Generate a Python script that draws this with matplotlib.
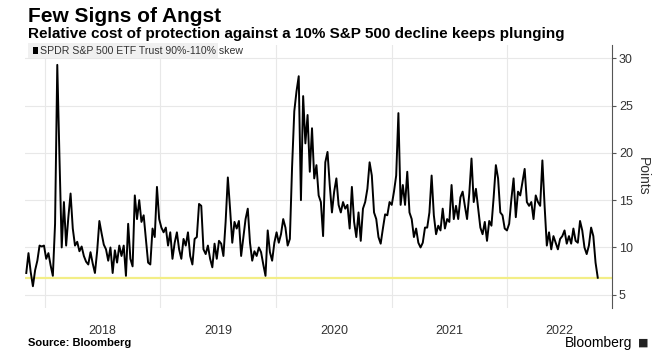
import datetime as dt
import matplotlib
matplotlib.use('Agg')
import matplotlib.pyplot as plt
from matplotlib.patches import Rectangle

# weekly readings of the skew, starting early November 2017
start_date = dt.date(2017, 11, 3)
skew = [
    7.3, 9.4, 7.4, 5.9, 7.6, 8.6, 10.2, 10.1, 10.2, 8.8,
    9.4, 8.1, 7.0, 12.5, 29.3, 19.4, 10.0, 14.8, 10.2, 13.2,
    15.7, 12.0, 10.2, 10.6, 9.6, 10.1, 9.1, 8.5, 8.2, 9.5,
    8.3, 7.3, 9.6, 12.8, 11.5, 10.3, 9.8, 8.6, 10.0, 7.3,
    9.7, 8.4, 10.2, 9.1, 10.2, 7.0, 12.5, 8.8, 8.0, 15.5,
    13.0, 15.0, 12.7, 13.4, 10.9, 8.4, 8.2, 12.0, 11.1, 16.4,
    13.0, 12.1, 11.6, 12.1, 10.2, 11.6, 8.8, 10.5, 11.6, 9.8,
    8.8, 10.9, 10.2, 11.6, 9.1, 8.2, 10.9, 11.1, 14.6, 14.4,
    9.8, 9.3, 10.2, 8.8, 7.9, 10.4, 8.8, 10.7, 10.4, 9.1,
    12.7, 17.4, 14.1, 10.5, 12.7, 12.0, 12.8, 9.1, 11.1, 13.0,
    14.1, 10.5, 8.6, 9.6, 9.1, 10.0, 9.5, 8.2, 7.0, 11.8,
    9.5, 8.6, 10.5, 11.6, 10.5, 11.4, 13.0, 12.1, 10.2, 10.9,
    18.5, 24.4, 26.5, 28.1, 15.0, 26.0, 21.0, 24.0, 18.0, 22.6,
    17.3, 18.7, 15.5, 14.8, 11.2, 19.0, 20.1, 16.6, 13.7, 15.9,
    17.3, 14.5, 13.7, 14.8, 14.1, 14.5, 12.0, 16.4, 12.7, 11.1,
    13.7, 10.7, 14.1, 14.8, 16.2, 19.0, 17.6, 13.7, 13.0, 11.1,
    10.4, 12.0, 13.5, 13.4, 14.8, 14.5, 15.9, 17.6, 24.2, 14.5,
    16.6, 14.5, 18.0, 13.7, 13.0, 11.1, 12.0, 10.5, 10.0, 10.5,
    12.1, 12.1, 13.7, 17.6, 13.4, 11.4, 12.3, 11.8, 14.1, 12.0,
    13.0, 12.7, 16.6, 13.0, 14.4, 13.0, 15.3, 15.9, 14.4, 13.0,
    15.7, 19.4, 14.8, 16.2, 14.1, 12.1, 11.4, 12.7, 10.7, 12.8,
    12.3, 15.3, 18.7, 17.3, 13.7, 13.4, 12.0, 11.8, 12.5, 15.1,
    17.3, 13.2, 15.9, 15.5, 16.9, 18.3, 14.8, 14.4, 14.8, 13.0,
    15.5, 14.8, 14.4, 19.2, 14.4, 10.2, 11.6, 9.8, 11.2, 10.5,
    9.8, 10.9, 11.2, 11.8, 10.4, 11.2, 10.4, 12.0, 10.7, 10.5,
    12.8, 11.8, 10.0, 9.3, 10.2, 12.1, 11.2, 8.4, 6.8,
]
dates = [start_date + dt.timedelta(days=7 * i) for i in range(len(skew))]
latest = skew[-1]

year_labels = ['2018', '2019', '2020', '2021', '2022']
label_dates = [dt.date(2018, 7, 2), dt.date(2019, 7, 2), dt.date(2020, 7, 2),
               dt.date(2021, 7, 2), dt.date(2022, 6, 15)]
year_starts = [dt.date(y, 1, 1) for y in range(2018, 2023)]
y_ticks = [5, 10, 15, 20, 25, 30]

plt.rcParams['font.family'] = ['Liberation Sans', 'DejaVu Sans']

fig = plt.figure(figsize=(6.56, 3.6), dpi=100)
ax = fig.add_axes([25 / 656, 52 / 360, 587 / 656, 263 / 360])

ax.axhline(latest, color='#f3ee86', linewidth=1.6, zorder=2)
ax.plot(dates, skew, color='black', linewidth=1.4, zorder=3)

ax.set_xlim(dt.date(2017, 10, 30), dt.date(2022, 11, 28))
ax.set_ylim(3.6, 31.4)

# year boundaries carry the grid, labels sit mid-year
ax.set_xticks(year_starts)
ax.set_xticklabels([])
ax.set_xticks(label_dates, minor=True)
ax.set_xticklabels(year_labels, minor=True)
ax.tick_params(axis='x', which='both', length=0, pad=12,
               labelsize=9, labelcolor='#333333')
ax.grid(axis='x', which='major', color='#e8e8e8', linewidth=0.8)

ax.yaxis.tick_right()
ax.yaxis.set_label_position('right')
ax.set_yticks(y_ticks)
ax.tick_params(axis='y', direction='out', length=3, width=0.8, color='#555555',
               labelsize=9, labelcolor='#333333', pad=2)
ax.grid(axis='y', color='#e8e8e8', linewidth=0.8)
ax.set_ylabel('Points', rotation=270, labelpad=12, fontsize=10, color='#333333')
ax.set_axisbelow(True)

for side in ['left', 'top', 'bottom']:
    ax.spines[side].set_visible(False)
ax.spines['right'].set_color('#555555')
ax.spines['right'].set_linewidth(0.8)

# titles
fig.text(28 / 656, 1 - 17 / 360, 'Few Signs of Angst', fontsize=15,
         fontweight='bold', va='center', ha='left', color='black')
fig.text(28 / 656, 1 - 34 / 360,
         'Relative cost of protection against a 10% S&P 500 decline keeps plunging',
         fontsize=11, fontweight='bold', va='center', ha='left', color='black')

# legend box
fig.patches.append(Rectangle((28 / 656, 1 - 58 / 360), 190 / 656, 15 / 360,
                             transform=fig.transFigure, facecolor='#f0f0f0',
                             edgecolor='none', zorder=5))
fig.patches.append(Rectangle((33 / 656, 1 - 53.5 / 360), 5 / 656, 6 / 360,
                             transform=fig.transFigure, facecolor='black',
                             edgecolor='none', zorder=6))
fig.text(40 / 656, 1 - 50.5 / 360, 'SPDR S&P 500 ETF Trust 90%-110% skew',
         fontsize=7.6, va='center', ha='left', color='#333333', zorder=7)

# footer
fig.text(28 / 656, 1 - 343 / 360, 'Source: Bloomberg', fontsize=8,
         fontweight='bold', va='center', ha='left', color='black')
fig.text(632 / 656, 1 - 343 / 360, 'Bloomberg', fontsize=10,
         va='center', ha='right', color='black')
fig.text(643 / 656, 1 - 343 / 360, '\u25a0', fontsize=8, family=['DejaVu Sans'],
         va='center', ha='center', color='#222222')

fig.savefig('out.png', dpi=100)
plt.close(fig)
